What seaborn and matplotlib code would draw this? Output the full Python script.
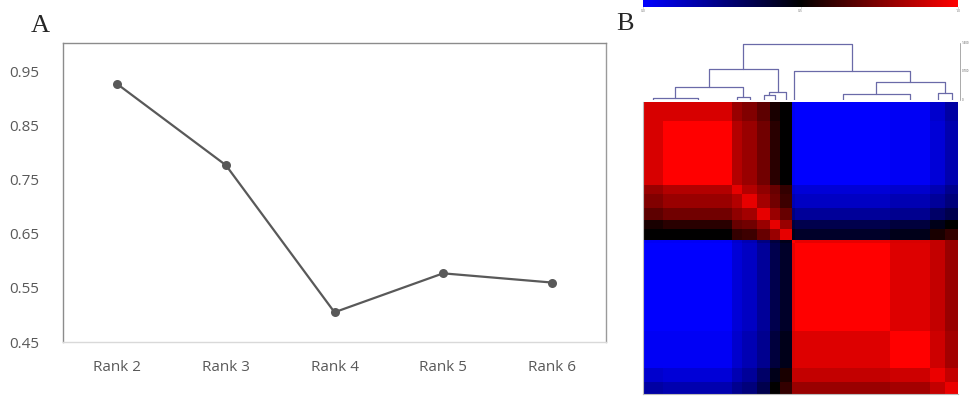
import numpy as np
import matplotlib
matplotlib.use("Agg")
import matplotlib.pyplot as plt
from matplotlib.colors import LinearSegmentedColormap
import seaborn as sns

# Panel A: cophenetic correlation per rank
ranks = ["Rank 2", "Rank 3", "Rank 4", "Rank 5", "Rank 6"]
coph = [0.927, 0.777, 0.505, 0.577, 0.560]
y_ticks = [0.45, 0.55, 0.65, 0.75, 0.85, 0.95]

# Panel B: consensus matrix, summarised as ordered sample groups
group_sizes = [20, 69, 10, 15, 13, 10, 12, 3, 95, 40, 15, 13]
consensus_blocks = [
    [0.92, 0.92, 0.80, 0.75, 0.68, 0.55, 0.50, 0.02, 0.00, 0.02, 0.10, 0.18],
    [0.92, 1.00, 0.85, 0.80, 0.72, 0.58, 0.50, 0.02, 0.00, 0.02, 0.08, 0.16],
    [0.80, 0.85, 0.95, 0.85, 0.78, 0.70, 0.60, 0.10, 0.08, 0.10, 0.15, 0.22],
    [0.75, 0.80, 0.85, 0.95, 0.82, 0.72, 0.62, 0.15, 0.12, 0.15, 0.20, 0.26],
    [0.68, 0.72, 0.78, 0.82, 0.95, 0.80, 0.70, 0.25, 0.20, 0.22, 0.30, 0.35],
    [0.55, 0.58, 0.70, 0.72, 0.80, 0.95, 0.80, 0.38, 0.35, 0.38, 0.45, 0.50],
    [0.50, 0.50, 0.60, 0.62, 0.70, 0.80, 0.95, 0.45, 0.42, 0.45, 0.55, 0.60],
    [0.02, 0.02, 0.10, 0.15, 0.25, 0.38, 0.45, 1.00, 0.95, 0.92, 0.88, 0.80],
    [0.00, 0.00, 0.08, 0.12, 0.20, 0.35, 0.42, 0.95, 1.00, 0.93, 0.88, 0.80],
    [0.02, 0.02, 0.10, 0.15, 0.22, 0.38, 0.45, 0.92, 0.93, 1.00, 0.90, 0.82],
    [0.10, 0.08, 0.15, 0.20, 0.30, 0.45, 0.55, 0.88, 0.88, 0.90, 0.96, 0.88],
    [0.18, 0.16, 0.22, 0.26, 0.35, 0.50, 0.60, 0.80, 0.80, 0.82, 0.88, 0.96],
]
# dendrogram over the groups: (left, right, merge height)
left_tree = (((0, 1, 0.04), (2, 3, 0.06), 0.23), ((4, 5, 0.08), 6, 0.14), 0.55)
right_tree = (7, ((8, 9, 0.10), (10, 11, 0.12), 0.32), 0.52)
tree = (left_tree, right_tree, 1.0)

sns.set_theme(style="white")
plt.rcParams["font.family"] = ["Open Sans", "DejaVu Sans"]

fig = plt.figure(figsize=(9.72, 3.96), dpi=100)
grey = "#595959"

# ---- Panel A ----
ax = fig.add_axes([63 / 972, 54 / 396, 543 / 972, 299 / 396])
sns.lineplot(x=ranks, y=coph, sort=False, marker="o", color=grey,
             linewidth=1.6, markersize=6.5, markeredgewidth=0, ax=ax)
ax.set_xlim(-0.5, 4.5)
ax.set_ylim(0.45, 1.003)
ax.set_yticks(y_ticks)
ax.set_yticklabels([f"{v:.2f}" for v in y_ticks])
ax.tick_params(axis="both", length=0, labelsize=11, labelcolor=grey)
ax.tick_params(axis="y", pad=17)
ax.tick_params(axis="x", pad=13)
ax.set_xlabel("")
ax.set_ylabel("")
for side, col in [("top", "#8c8c8c"), ("left", "#8c8c8c"),
                  ("right", "#9a9a9a"), ("bottom", "#d9d9d9")]:
    ax.spines[side].set_color(col)
    ax.spines[side].set_linewidth(1.0)

# ---- Panel B ----
cmap = LinearSegmentedColormap.from_list("brd", ["#0000ff", "#000000", "#ff0000"])
mat = np.repeat(np.repeat(np.array(consensus_blocks), group_sizes, axis=0),
                group_sizes, axis=1)

hax = fig.add_axes([643 / 972, 2 / 396, 315 / 972, 292 / 396])
sns.heatmap(mat, cmap=cmap, vmin=0, vmax=1, cbar=False,
            xticklabels=False, yticklabels=False, ax=hax)
for s in ["left", "bottom"]:
    hax.spines[s].set_visible(True)
    hax.spines[s].set_color("#bbbbbb")
    hax.spines[s].set_linewidth(0.8)

# dendrogram
centers = np.cumsum(group_sizes) - np.array(group_sizes) / 2.0
dax = fig.add_axes([643 / 972, 296 / 396, 315 / 972, 57 / 396])
dcol = "#6a6aa8"


def draw(node):
    if isinstance(node, int):
        return centers[node], 0.0
    lx, lh = draw(node[0])
    rx, rh = draw(node[1])
    h = node[2]
    dax.plot([lx, lx, rx, rx], [lh, h, h, rh], color=dcol, lw=0.9)
    return (lx + rx) / 2.0, h


draw(tree)
dax.set_xlim(0, sum(group_sizes))
dax.set_ylim(0, 1.01)
dax.axis("off")
# dendrogram height axis
fig.add_artist(plt.Line2D([960 / 972, 960 / 972], [296 / 396, 353 / 396],
                          color="#aaaaaa", lw=0.7))
for v, lab in [(1.0, "1.400"), (0.5, "0.700"), (0.0, "0")]:
    yy = (296 + 57 * v) / 396
    fig.text(961.5 / 972, yy, lab, fontsize=2.2, va="center", ha="left",
             color="#555555")

# colour bar
cax = fig.add_axes([643 / 972, 389 / 396, 315 / 972, 7 / 396])
sm = plt.cm.ScalarMappable(cmap=cmap, norm=plt.Normalize(0, 1))
cb = fig.colorbar(sm, cax=cax, orientation="horizontal")
cb.outline.set_visible(False)
cb.set_ticks([0, 0.5, 1])
cb.ax.tick_params(length=1, width=0.4, labelsize=2.5, pad=0.5, colors="#777777")

# panel letters
fig.text(40 / 972, 1 - 32 / 396, "A", family="Liberation Serif", fontsize=19,
         ha="center", va="baseline")
fig.text(625 / 972, 1 - 30 / 396, "B", family="Liberation Serif", fontsize=19,
         ha="center", va="baseline")

fig.savefig("out.png", dpi=100)
